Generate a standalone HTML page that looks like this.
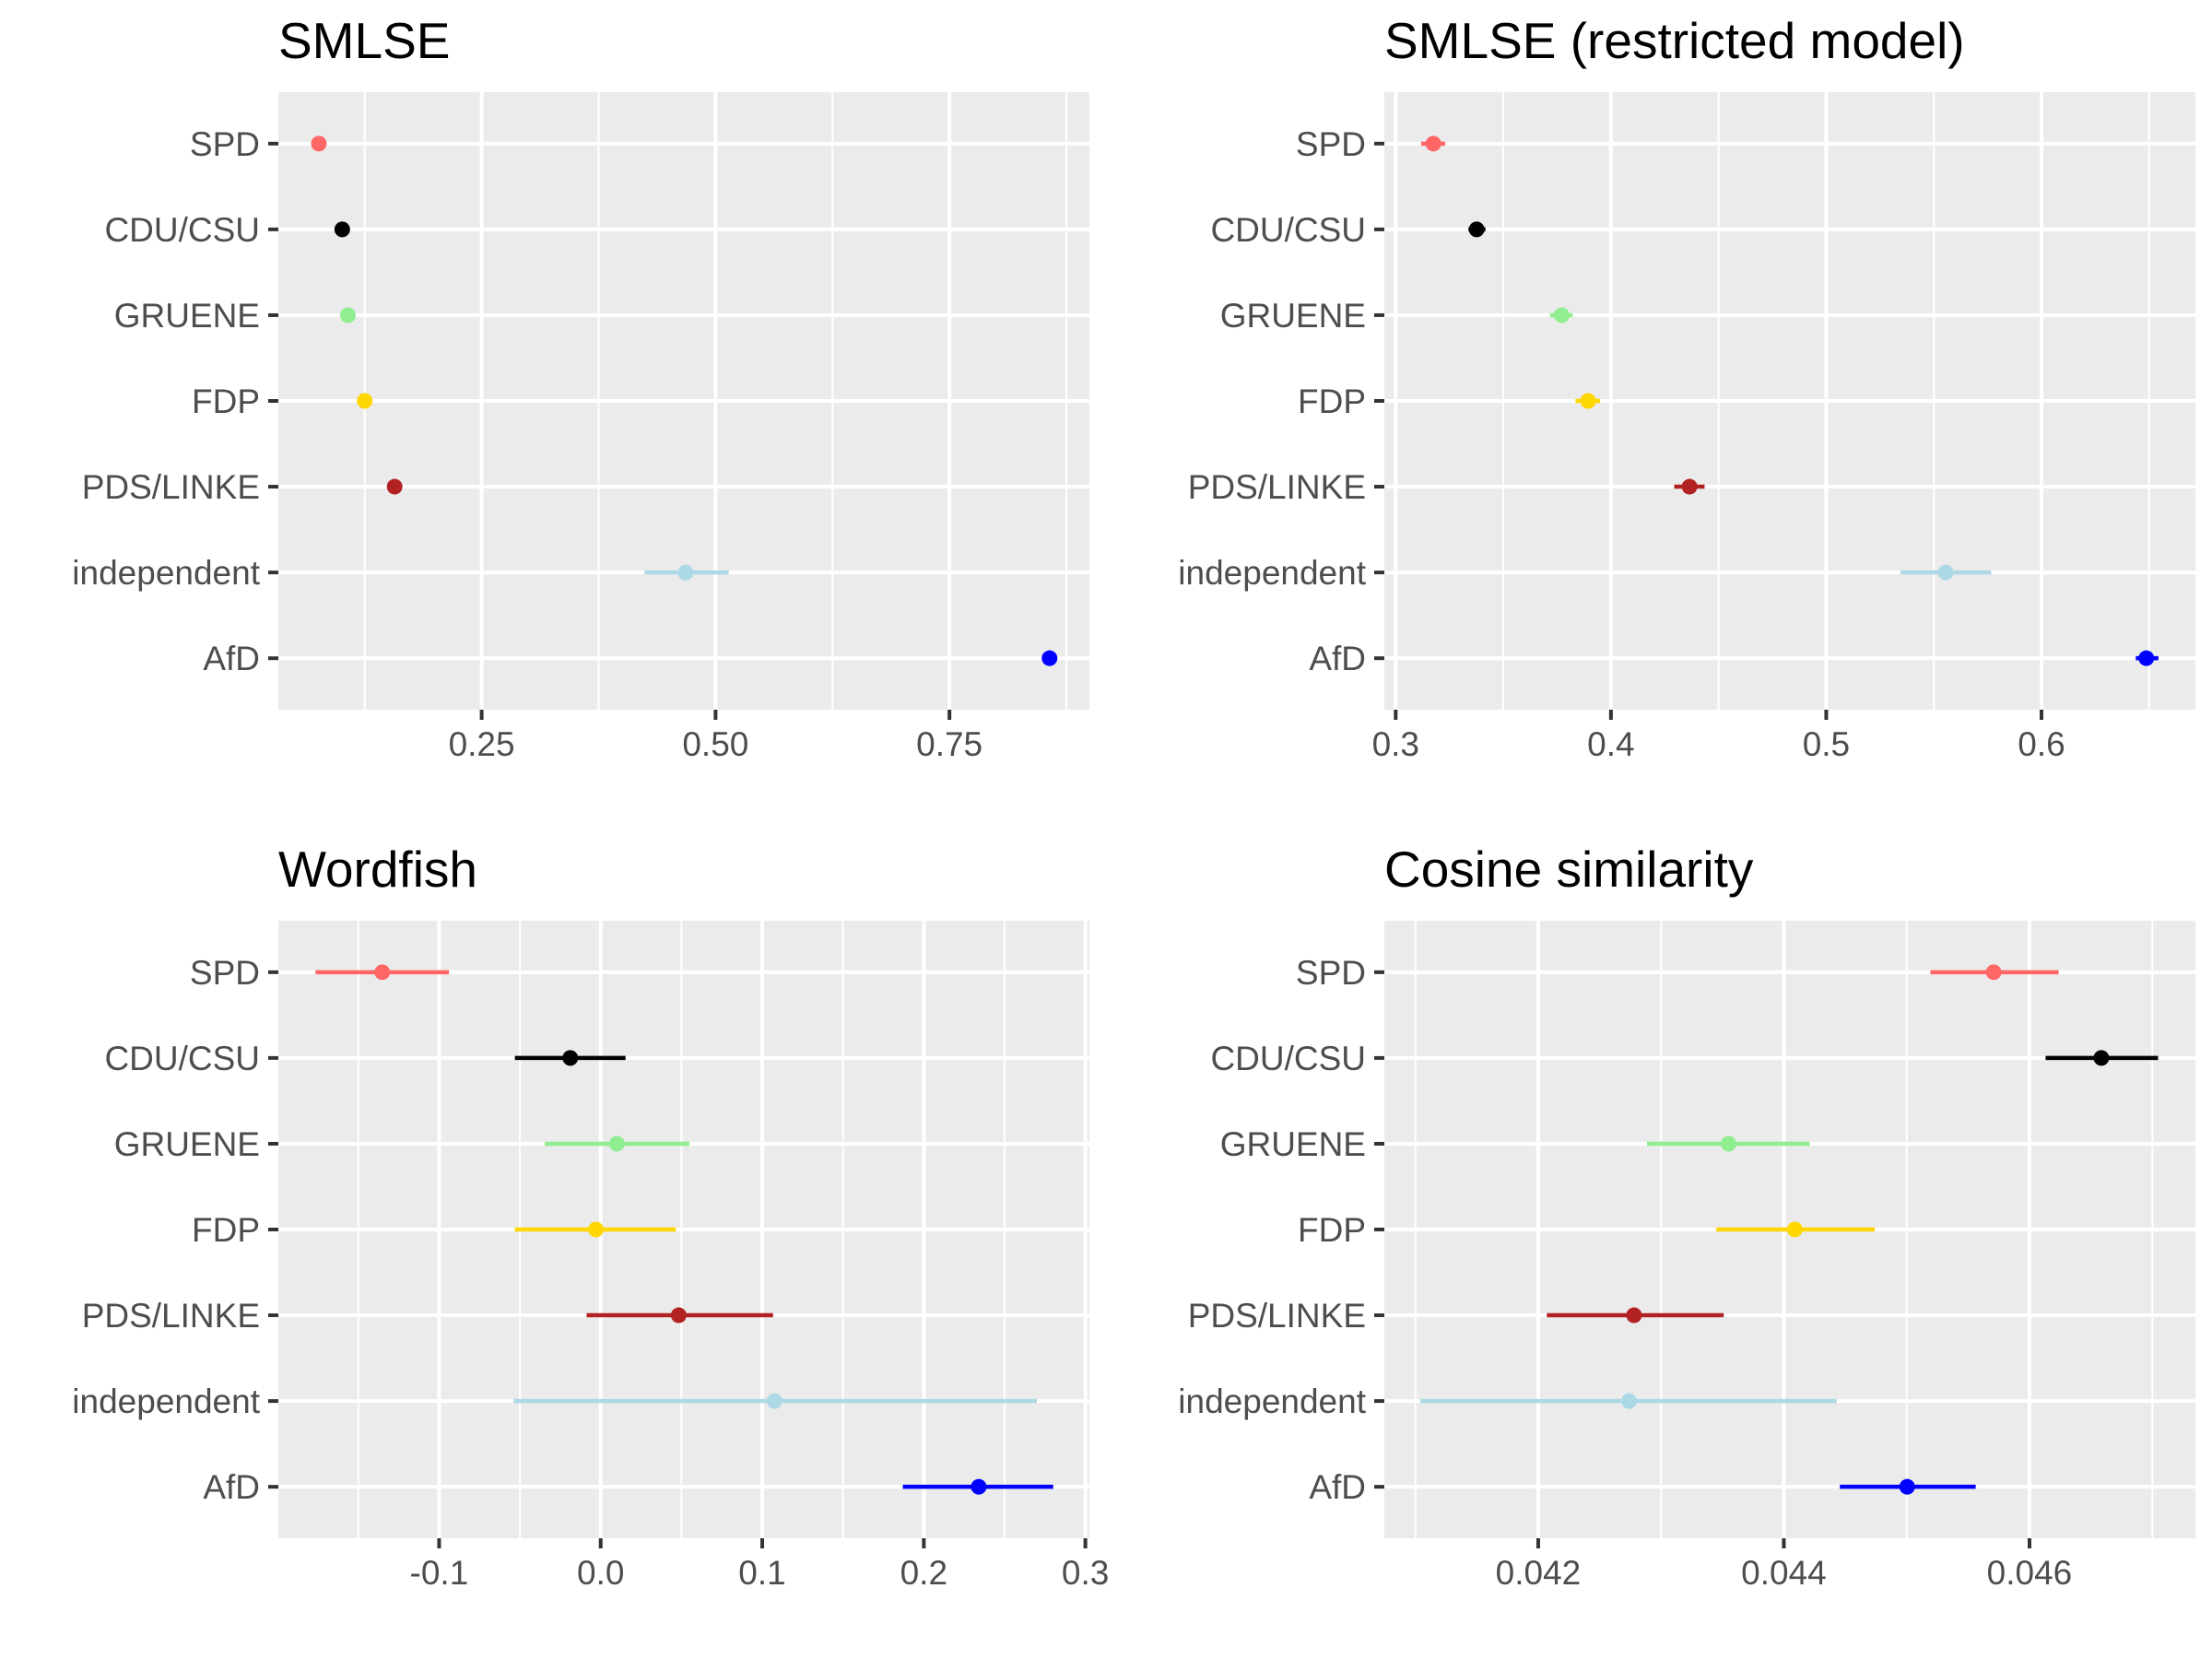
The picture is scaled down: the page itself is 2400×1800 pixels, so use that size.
<!DOCTYPE html>
<html><head><meta charset="utf-8"><style>
html,body{margin:0;padding:0;background:#fff;}
svg{display:block;font-family:"Liberation Sans",Arial,sans-serif;}
</style></head><body>
<svg id="chart" width="2400" height="1800" viewBox="0 0 2400 1800" xmlns="http://www.w3.org/2000/svg"></svg>
<script>
const parties = ["SPD","CDU/CSU","GRUENE","FDP","PDS/LINKE","independent","AfD"];
const partyColors = ["#FF6666","#000000","#90EE90","#FFD700","#B22222","#ADD8E6","#0000FF"];

const smlseEst  = [0.076,0.101,0.107,0.125,0.157,0.468,0.857];
const smlseLo   = [0.073,0.098,0.104,0.122,0.154,0.424,0.853];
const smlseHi   = [0.079,0.104,0.110,0.128,0.160,0.514,0.861];
const smlseTicks = [0.25,0.50,0.75];
const smlseTickLabels = ["0.25","0.50","0.75"];

const restrEst = [0.3175,0.3376,0.3771,0.3894,0.4365,0.5555,0.6487];
const restrLo  = [0.3118,0.3338,0.3717,0.3835,0.4294,0.5345,0.6438];
const restrHi  = [0.3230,0.3417,0.3822,0.3950,0.4435,0.5766,0.6543];
const restrTicks = [0.3,0.4,0.5,0.6];
const restrTickLabels = ["0.3","0.4","0.5","0.6"];

const wfEst = [-0.1352,-0.0188,0.0101,-0.0030,0.0483,0.1076,0.2340];
const wfLo  = [-0.1765,-0.0531,-0.0346,-0.0531,-0.0087,-0.0539,0.1870];
const wfHi  = [-0.0939,0.0154,0.0549,0.0465,0.1067,0.2700,0.2801];
const wfTicks = [-0.1,0.0,0.1,0.2,0.3];
const wfTickLabels = ["-0.1","0.0","0.1","0.2","0.3"];

const cosEst = [0.045708,0.046585,0.04355,0.04409,0.04278,0.04274,0.045004];
const cosLo  = [0.045193,0.046131,0.042886,0.04345,0.04207,0.04104,0.044456];
const cosHi  = [0.046237,0.047047,0.04421,0.04474,0.04351,0.04443,0.045562];
const cosTicks = [0.042,0.044,0.046];
const cosTickLabels = ["0.042","0.044","0.046"];

const svg = document.getElementById('chart');
const NS = "http://www.w3.org/2000/svg";
function mk(tag, attrs, parent){
  const e = document.createElementNS(NS, tag);
  for (const k in attrs) e.setAttribute(k, attrs[k]);
  parent.appendChild(e);
  return e;
}

function panel(slug, title, px, py, domain, ticks, tickLabels, est, lo, hi){
  const W = 880, H = 670;
  const g = mk('g', {}, svg);
  
  
  const x = v => px + (v - domain[0]) / (domain[1] - domain[0]) * W;
  const unit = H / (parties.length - 1 + 1.2);
  const y = i => py + 0.6 * unit + i * unit;

  const t = mk('text', {x: px, y: py - 37, 'font-size': 55, fill: '#000'}, g);
  t.textContent = title;
  
  

  const bg = mk('rect', {x: px, y: py, width: W, height: H, fill: '#EBEBEB'}, g);
  
  

  const step = ticks[1] - ticks[0];
  const minors = [];
  for (let k = -1; k < ticks.length; k++) {
    const m = ticks[0] + (k + 0.5) * step;
    if (x(m) > px && x(m) < px + W) minors.push(m);
  }
  minors.forEach(m => {
    const l = mk('line', {x1: x(m), x2: x(m), y1: py, y2: py + H, stroke: '#fff', 'stroke-width': 2}, g);
    
    
  });
  ticks.forEach((v, i) => {
    const l = mk('line', {x1: x(v), x2: x(v), y1: py, y2: py + H, stroke: '#fff', 'stroke-width': 4}, g);
    
    
    const tk = mk('line', {x1: x(v), x2: x(v), y1: py + H, y2: py + H + 11, stroke: '#333', 'stroke-width': 4}, g);
    
    
    const lb = mk('text', {x: x(v), y: py + H + 50, 'font-size': 37, fill: '#4D4D4D', 'text-anchor': 'middle'}, g);
    lb.textContent = tickLabels[i];
    
    
  });
  parties.forEach((p, i) => {
    const l = mk('line', {x1: px, x2: px + W, y1: y(i), y2: y(i), stroke: '#fff', 'stroke-width': 4}, g);
    
    
    const tk = mk('line', {x1: px - 11, x2: px, y1: y(i), y2: y(i), stroke: '#333', 'stroke-width': 4}, g);
    
    
    const lb = mk('text', {x: px - 20, y: y(i) + 13, 'font-size': 37, fill: '#4D4D4D', 'text-anchor': 'end'}, g);
    lb.textContent = p;
    
    
  });
  parties.forEach((p, i) => {
    const eb = mk('line', {x1: x(lo[i]), x2: x(hi[i]), y1: y(i), y2: y(i), stroke: partyColors[i], 'stroke-width': 4.5}, g);
    
    
    const c = mk('circle', {cx: x(est[i]), cy: y(i), r: 8.5, fill: partyColors[i]}, g);
    
    
  });
}

panel('smlse', 'SMLSE', 302, 100, [0.0327, 0.8996], smlseTicks, smlseTickLabels, smlseEst, smlseLo, smlseHi);
panel('smlse-restricted', 'SMLSE (restricted model)', 1502, 100, [0.29473, 0.6715], restrTicks, restrTickLabels, restrEst, restrLo, restrHi);
panel('wordfish', 'Wordfish', 302, 999, [-0.1995, 0.3025], wfTicks, wfTickLabels, wfEst, wfLo, wfHi);
panel('cosine', 'Cosine similarity', 1502, 999, [0.040747, 0.047351], cosTicks, cosTickLabels, cosEst, cosLo, cosHi);
</script>
</body></html>
